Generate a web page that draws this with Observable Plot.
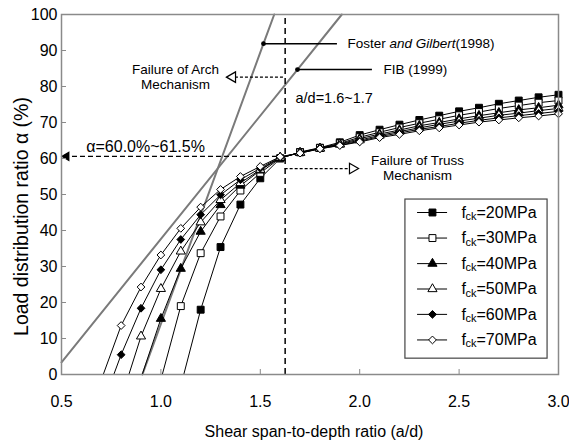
<!DOCTYPE html>
<html><head><meta charset="utf-8">
<script src="https://cdn.jsdelivr.net/npm/d3@7"></script>
<script src="https://cdn.jsdelivr.net/npm/@observablehq/plot@0.6"></script>
<style>
html,body{margin:0;padding:0;background:#fff;}
#chart{width:569px;height:443px;overflow:hidden;}
</style></head><body><div id="chart"></div>
<script>
// ---- data ----
const strengths = ["20MPa","30MPa","40MPa","50MPa","60MPa","70MPa"];
const adValues = [0.8,0.9,1.0,1.1,1.2,1.3,1.4,1.5,1.6,1.7,1.8,1.9,2.0,2.1,2.2,2.3,2.4,2.5,2.6,2.7,2.8,2.9,3.0];
const alpha20 = [null,null,null,null,18.0,35.4,47.2,54.5,60.0,61.8,63.0,64.5,66.5,68.0,69.4,70.7,71.9,73.1,74.1,75.2,76.1,77.0,77.7];
const alpha30 = [null,null,null,19.0,33.7,43.9,51.1,56.0,60.1,61.7,62.9,64.2,65.9,67.3,68.6,69.8,70.9,72.0,72.9,73.9,74.7,75.5,76.1];
const alpha40 = [null,null,15.5,29.4,39.7,47.1,52.5,56.7,60.2,61.6,62.8,64.0,65.5,66.8,67.9,69.1,70.0,71.0,71.9,72.7,73.5,74.1,74.8];
const alpha50 = [null,10.6,23.8,34.2,42.3,48.5,53.2,56.9,60.3,61.6,62.8,63.9,65.1,66.4,67.5,68.5,69.5,70.4,71.2,72.0,72.6,73.3,73.9];
const alpha60 = [5.5,18.4,29.1,37.5,44.4,49.9,54.1,57.3,60.4,61.5,62.7,63.7,64.8,66.1,67.1,68.1,68.9,69.8,70.6,71.3,71.9,72.5,73.1];
const alpha70 = [13.6,24.3,33.2,40.6,46.5,51.4,55.0,57.8,60.5,61.5,62.7,63.6,64.6,65.8,66.7,67.7,68.5,69.3,70.1,70.7,71.3,71.8,72.4];
const adAtZeroAlpha = [1.115,1.007,0.906,0.839,0.763,0.710];
const fosterAD = [0.907,1.516,1.570];
const fosterAlpha = [0,91.9,100];
const fibAD = [0.5,1.687,1.910];
const fibAlpha = [3.4,84.7,100];
const adLimit = 1.625;
const alphaLimit = 60.6;
const xTicks = [0.5,1.0,1.5,2.0,2.5,3.0];
const yTicks = [0,10,20,30,40,50,60,70,80,90,100];

// ---- build ----
const alphaSeries = [alpha20,alpha30,alpha40,alpha50,alpha60,alpha70];
const symbols = ["square","square","triangle","triangle","diamond2","diamond2"];
const radius = {square:3.9, triangle:3.4, diamond2:3.5};
const filled = [true,false,true,false,true,false];

const series = strengths.map((s,i) => {
  const pts = adValues.map((ad,j) => ({ad, alpha: alphaSeries[i][j], s})).filter(d => d.alpha != null);
  return {s, pts, line: [{ad: adAtZeroAlpha[i], alpha: 0, s}, ...pts], symbol: symbols[i], filled: filled[i]};
});
const fosterData = fosterAD.map((ad,i)=>({ad, alpha: fosterAlpha[i]}));
const fibData = fibAD.map((ad,i)=>({ad, alpha: fibAlpha[i]}));

// legend (data-unit placement)
const legendY = [45.0,37.9,30.8,23.75,16.7,9.6];
const legendRows = strengths.map((s,i)=>({s, y: legendY[i], symbol: symbols[i], filled: filled[i]}));

const font = "Liberation Sans, Arial, Helvetica, sans-serif";
const marks = [];

// grey reference lines
marks.push(Plot.line(fosterData, {x:"ad", y:"alpha", stroke:"#7a7a7a", strokeWidth:2}));
marks.push(Plot.line(fibData, {x:"ad", y:"alpha", stroke:"#7a7a7a", strokeWidth:2}));

// dashed guides
marks.push(Plot.ruleX([adLimit], {y1:0, y2:100, stroke:"black", strokeWidth:1.5, strokeDasharray:"6,4"}));
marks.push(Plot.ruleY([alphaLimit], {x1:0.515, x2:1.6, stroke:"black", strokeWidth:1.1, strokeDasharray:"5,3"}));
marks.push(Plot.dot([alphaLimit], {x:0.5, y:d=>d, symbol:"triangle", rotate:-90, r:2.8, fill:"black", stroke:"black", dx:5}));

// series
for (const sr of series) {
  marks.push(Plot.line(sr.line, {x:"ad", y:"alpha", stroke:"black", strokeWidth:1}));
}
for (const sr of series) {
  marks.push(Plot.dot(sr.pts, {x:"ad", y:"alpha", symbol: sr.symbol, r: radius[sr.symbol],
    fill: sr.filled ? "black" : "white", stroke:"black", strokeWidth:1}));
}

// annotation leaders
marks.push(Plot.ruleY([fosterAlpha[1]], {x1:fosterAD[1], x2:1.888, stroke:"black", strokeWidth:1.5}));
marks.push(Plot.ruleY([fibAlpha[1]], {x1:fibAD[1], x2:2.064, stroke:"black", strokeWidth:1.5}));
marks.push(Plot.dot([0], {x:fosterAD[1], y:fosterAlpha[1], r:2.4, fill:"black"}));
marks.push(Plot.dot([0], {x:fibAD[1], y:fibAlpha[1], r:2.4, fill:"black"}));

const annFs = 13.5;
marks.push(Plot.text([0], {x:1.939, y:fosterAlpha[1], text:()=>"Foster ", textAnchor:"start", fontSize:annFs}));
marks.push(Plot.text([0], {x:1.939, y:fosterAlpha[1], text:()=>"and Gilbert", textAnchor:"start", fontSize:annFs, fontStyle:"italic", dx:42}));
marks.push(Plot.text([0], {x:1.939, y:fosterAlpha[1], text:()=>"(1998)", textAnchor:"start", fontSize:annFs, dx:108}));
marks.push(Plot.text([0], {x:2.120, y:fibAlpha[1], text:()=>"FIB (1999)", textAnchor:"start", fontSize:annFs}));

// arch arrow
marks.push(Plot.ruleY([82.6], {x1:1.375, x2:adLimit, stroke:"black", strokeWidth:1.4, strokeDasharray:"3,2"}));
marks.push(Plot.dot([0], {x:1.330, y:82.6, symbol:"triangle", rotate:-90, r:3.9, fill:"white", stroke:"black", strokeWidth:1.2, dx:6}));
marks.push(Plot.text([0], {x:1.073, y:82.65, text:()=>"Failure of Arch\nMechanism", fontSize:annFs, lineHeight:1.12}));

// truss arrow
marks.push(Plot.ruleY([57.2], {x1:adLimit, x2:1.949, stroke:"black", strokeWidth:1.4, strokeDasharray:"3,2"}));
marks.push(Plot.dot([0], {x:1.994, y:57.2, symbol:"triangle", rotate:90, r:3.9, fill:"white", stroke:"black", strokeWidth:1.2, dx:-6}));
marks.push(Plot.text([0], {x:2.291, y:57.5, text:()=>"Failure of Truss\nMechanism", fontSize:annFs, lineHeight:1.12}));

marks.push(Plot.text([0], {x:1.677, y:76.7, text:()=>"a/d=1.6~1.7", textAnchor:"start", fontSize:14.5}));
marks.push(Plot.text([0], {x:0.923, y:63.1, text:()=>"α=60.0%~61.5%", fontSize:16}));

// legend
marks.push(Plot.rect([0], {x1:2.230, x2:2.945, y1:4.4, y2:48.6, fill:"white", stroke:"#444", strokeWidth:1.2}));
marks.push(Plot.ruleY(legendRows, {y:"y", x1:2.291, x2:2.442, stroke:"black", strokeWidth:1}));
for (const row of legendRows) {
  marks.push(Plot.dot([row], {x:2.366, y:"y", symbol: row.symbol, r: radius[row.symbol],
    fill: row.filled ? "black" : "white", stroke:"black", strokeWidth:1}));
}
marks.push(Plot.text(legendRows, {x:2.512, y:"y", text:()=>"f", textAnchor:"start", fontSize:16}));
marks.push(Plot.text(legendRows, {x:2.512, y:"y", text:()=>"ck", textAnchor:"start", fontSize:11, dx:4, dy:4}));
marks.push(Plot.text(legendRows, {x:2.512, y:"y", text:d=>"="+d.s, textAnchor:"start", fontSize:16, dx:15}));

// axes
marks.push(Plot.frame({stroke:"#8a8a8a", strokeWidth:1.5}));
marks.push(Plot.axisX({ticks:xTicks, tickSize:5, dy:-5, tickFormat:()=>"", label:null, stroke:"#8a8a8a"}));
marks.push(Plot.axisY({ticks:yTicks, tickSize:5, dx:5, tickFormat:()=>"", label:null, stroke:"#8a8a8a"}));
marks.push(Plot.axisX({ticks:xTicks, tickSize:0, tickPadding:21, tickFormat:".1f", label:null, fontSize:16}));
marks.push(Plot.axisY({ticks:yTicks, tickSize:0, tickPadding:4, label:null, fontSize:16}));
marks.push(Plot.text([0], {frameAnchor:"bottom", text:()=>"Shear span-to-depth ratio (a/d)", textAnchor:"middle", lineAnchor:"middle", dy:57, dx:4, fontSize:16}));
marks.push(Plot.text([0], {frameAnchor:"left", text:()=>"Load distribution ratio α (%)", textAnchor:"middle", lineAnchor:"middle", rotate:-90, dx:-40, dy:22, fontSize:19.5}));

const chart = Plot.plot({
  width:569, height:443,
  marginLeft:61, marginRight:11, marginTop:14, marginBottom:69,
  x:{domain:[0.5,3.0]},
  y:{domain:[0,100]},
  style:{fontFamily:font, fontSize:"16px", background:"white", color:"black", overflow:"visible"},
  marks
});
document.getElementById("chart").appendChild(chart);
</script></body></html>
